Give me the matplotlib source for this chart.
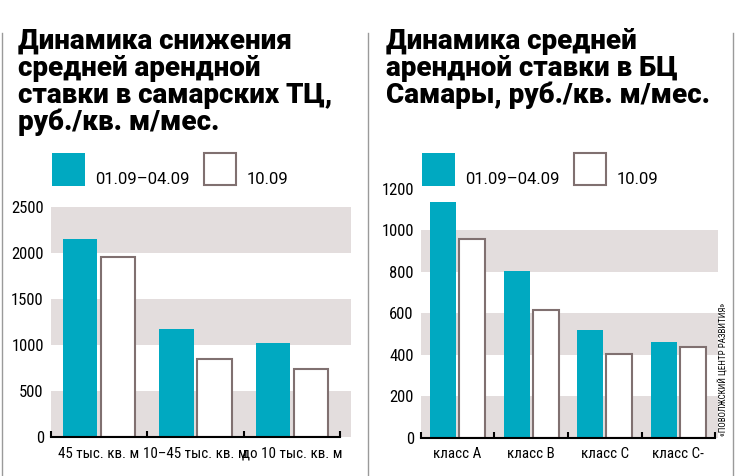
import numpy as np
import matplotlib
matplotlib.use('Agg')
import matplotlib.pyplot as plt
from matplotlib import font_manager
from matplotlib.patches import Rectangle
from matplotlib.lines import Line2D

# Data
tc_categories = ['45 тыс. кв. м', '10–45 тыс. кв. м', 'до 10 тыс. кв. м']
tc_before = [2155, 1170, 1025]
tc_after = [1957, 845, 740]

bc_categories = ['класс А', 'класс В', 'класс С', 'класс С-']
bc_before = [1136, 804, 517, 459]
bc_after = [957, 615, 401, 438]

series_labels = ['01.09–04.09', '10.09']
titles = [
    ['Динамика снижения', 'средней арендной', 'ставки в самарских ТЦ,', 'руб./кв. м/мес.'],
    ['Динамика средней', 'арендной ставки в БЦ', 'Самары, руб./кв. м/мес.'],
]
source = '«ПОВОЛЖСКИЙ ЦЕНТР РАЗВИТИЯ»'

TEAL = '#00a9c1'
EDGE = '#807070'
BAND = '#e3dddd'

# pick a narrow font for the axis labels if one is around
fonts = font_manager.fontManager.ttflist
names = {f.name for f in fonts}
narrow = dict(family=['Roboto', 'DejaVu Sans'], stretch='normal')
scale = 0.82
for cand in ['Liberation Sans Narrow', 'Roboto Condensed', 'Open Sans Condensed']:
    if cand in names:
        narrow = dict(family=[cand, 'DejaVu Sans'], stretch='normal')
        scale = 1.0
        break
else:
    if any(f.name == 'DejaVu Sans' and f.stretch == 'condensed' for f in fonts):
        narrow = dict(family=['DejaVu Sans'], stretch='condensed')
        scale = 0.9

W, H = 735, 476
fig = plt.figure(figsize=(W / 100, H / 100), dpi=100)


def fx(x):
    return x / W


def fy(y):
    return 1 - y / H


def panel(left, right, y0, ytop, cats, before, after, ymax, step, xmax):
    ax = fig.add_axes([fx(left), fy(y0), fx(right - left), (y0 - ytop) / H])
    loc = np.arange(len(cats))
    # alternating grey bands
    for lo in np.arange(0, ymax, 2 * step):
        ax.axhspan(lo, lo + step, color=BAND, lw=0, zorder=0)
    ax.bar(loc + 0.125, before, width=0.355, align='edge', color=TEAL, lw=0, zorder=2)
    ax.bar(loc + 0.52, after, width=0.355, align='edge', color='white',
           edgecolor=EDGE, lw=1.5, zorder=2)
    ax.set_xlim(0, xmax)
    ax.set_ylim(0, ymax)
    ax.set_yticks(np.arange(0, ymax + 1, step))
    for s in ['top', 'left', 'right']:
        ax.spines[s].set_visible(False)
    ax.spines['bottom'].set_bounds(0, len(cats))
    ax.spines['bottom'].set_linewidth(1.5)
    ax.spines['bottom'].set_zorder(3)
    ax.set_xticks(np.arange(len(cats) + 1))
    ax.set_xticklabels([])
    ax.tick_params(axis='x', which='major', direction='in', length=4, width=1.5)
    ax.set_xticks(loc + 0.5, minor=True)
    ax.set_xticklabels(cats, minor=True, fontsize=10.8 * scale, **narrow)
    ax.tick_params(axis='x', which='minor', length=0, pad=7)
    ax.tick_params(axis='y', length=0, pad=5)
    for label in ax.yaxis.get_ticklabels():
        label.set_family(narrow['family'])
        label.set_stretch(narrow['stretch'])
        label.set_fontsize(12 * scale)
    ax.patch.set_alpha(0)
    return ax


panel(50.7, 351, 437, 207, tc_categories, tc_before, tc_after, 2500, 500, 3.11)
panel(420.7, 717.7, 437.7, 188.7, bc_categories, bc_before, bc_after, 1200, 200, 4.035)

# titles
for x0, lines in zip([18, 386], titles):
    for i, line in enumerate(lines):
        fig.text(fx(x0), fy(49 + i * 27), line, fontsize=20, fontweight='black',
                 family=['Roboto', 'DejaVu Sans'], va='baseline', ha='left', color='black')

# legends
for lx in [51.7, 421.7]:
    fig.patches.append(Rectangle((fx(lx), fy(186)), fx(33), 33 / H, transform=fig.transFigure,
                                 facecolor=TEAL, lw=0))
    fig.text(fx(lx + 43), fy(184), series_labels[0], fontsize=12,
             family=['Roboto', 'DejaVu Sans'], va='baseline')
    fig.patches.append(Rectangle((fx(lx + 152), fy(185)), fx(32), 32 / H,
                                 transform=fig.transFigure, facecolor='white',
                                 edgecolor=EDGE, lw=1.5))
    fig.text(fx(lx + 195), fy(184), series_labels[1], fontsize=12,
             family=['Roboto', 'DejaVu Sans'], va='baseline')

# separators
for x in [1.5, 367.5, 733]:
    fig.lines.append(Line2D([fx(x), fx(x)], [fy(33), 0], transform=fig.transFigure,
                            color='#9a9a9a', lw=1))

fig.text(fx(724), fy(369), source, rotation=90, fontsize=6.5 * scale,
         ha='center', va='center', **narrow)

fig.savefig('out.png', dpi=100)
